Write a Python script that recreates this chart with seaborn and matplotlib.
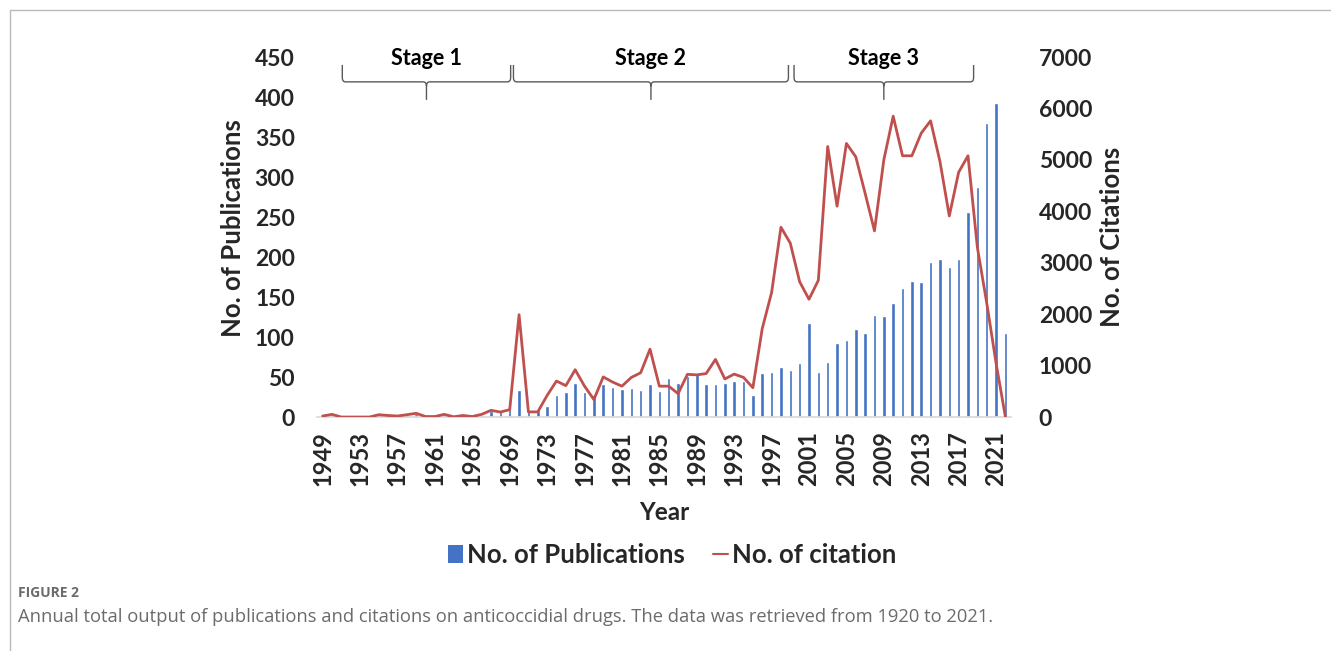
import numpy as np
import pandas as pd
import seaborn as sns
import matplotlib.pyplot as plt
from matplotlib.path import Path
from matplotlib.patches import PathPatch, Patch
from matplotlib.lines import Line2D
from matplotlib.transforms import blended_transform_factory

# --- data ---
years = list(range(1949, 2023))
publications = [
    3, 2, 0, 0, 0, 0, 2, 2, 1, 2,            # 1949-1958
    4, 0, 0, 2, 0, 4, 1, 2, 7, 7,            # 1959-1968
    10, 34, 7, 9, 14, 27, 31, 42, 31, 27,    # 1969-1978
    41, 37, 35, 36, 34, 41, 33, 49, 42, 51,  # 1979-1988
    54, 41, 41, 42, 45, 45, 27, 55, 56, 63,  # 1989-1998
    59, 68, 118, 56, 69, 92, 96, 110, 105, 128,  # 1999-2008
    126, 142, 161, 170, 169, 194, 197, 188, 197, 256,  # 2009-2018
    287, 368, 393, 105,                      # 2019-2022
]
citations = [
    20, 52, 0, 0, 0, 0, 45, 30, 20, 45,
    72, 10, 10, 52, 5, 30, 10, 52, 130, 97,
    143, 1990, 100, 100, 420, 700, 610, 920, 600, 340,
    780, 680, 600, 770, 860, 1320, 600, 600, 455, 830,
    820, 845, 1120, 740, 835, 770, 570, 1720, 2420, 3690,
    3380, 2630, 2290, 2660, 5260, 4100, 5320, 5060, 4350, 3620,
    5000, 5850, 5080, 5080, 5520, 5760, 4970, 3910, 4760, 5080,
    3300, 2220, 1050, 0,
]
stage_names = ["Stage 1", "Stage 2", "Stage 3"]
stage_starts = [1951.1, 1969.4, 1999.4]
stage_ends = [1969.1, 1998.8, 2018.6]

df = pd.DataFrame({"Year": years, "Publications": publications, "Citations": citations})

blue = "#4472C4"
red = "#C0504D"

sns.set_theme(style="white")
plt.rcParams["font.family"] = ["Lato", "DejaVu Sans"]

fig = plt.figure(figsize=(13.31, 6.51), dpi=100)
ax = fig.add_axes([0.2382, 0.3594, 0.5214, 0.553])

sns.barplot(data=df, x="Year", y="Publications", color=blue, saturation=1,
            width=0.38, ax=ax)
ax.set_ylim(0, 450)
ax.set_xlim(-0.6, len(years) - 0.4)

ax2 = ax.twinx()
sns.lineplot(x=np.arange(len(years)), y=df["Citations"], color=red, lw=2,
             ax=ax2)
ax2.set_ylim(0, 7000)

# ticks (every 4th year on x)
pos = np.arange(0, len(years), 4)
ax.set_xticks(pos, [str(years[i]) for i in pos], rotation=90, fontsize=17,
              fontweight="bold")
ax.set_yticks(range(0, 451, 50), [str(v) for v in range(0, 451, 50)],
              fontsize=16.5, fontweight="bold")
ax2.set_yticks(range(0, 7001, 1000), [str(v) for v in range(0, 7001, 1000)],
               fontsize=16.5, fontweight="bold")
for a in (ax, ax2):
    for s in a.spines.values():
        s.set_visible(False)
ax.spines["bottom"].set_visible(True)
ax.spines["bottom"].set_color("#D9D9D9")
ax.tick_params(axis="x", length=0, pad=10)
ax.tick_params(axis="y", length=0, pad=16)
ax2.tick_params(axis="y", length=0, pad=20)

ax.set_xlabel("Year", fontsize=17.5, fontweight="bold")
ax.set_ylabel("No. of Publications", fontsize=18.5, fontweight="bold")
ax2.set_ylabel("No. of Citations", fontsize=18.5, fontweight="bold")
ax.xaxis.set_label_coords(0.501, -0.232)
ax.yaxis.set_label_coords(-0.104, 0.525)
ax2.yaxis.set_label_coords(1.128, 0.5)

# stage braces
tr = blended_transform_factory(ax.transData, ax.transAxes)
ytop, ymid, ytip = 0.978, 0.931, 0.881
rx, ry = 0.35, 0.012
for name, s, e in zip(stage_names, stage_starts, stage_ends):
    x0, x1 = s - years[0], e - years[0]
    xc = (x0 + x1) / 2
    verts = [(x0, ytop), (x0, ymid + ry), (x0, ymid), (x0 + rx, ymid),
             (xc - rx, ymid), (xc, ymid), (xc, ymid - ry), (xc, ytip),
             (xc, ymid - ry), (xc, ymid), (xc + rx, ymid),
             (x1 - rx, ymid), (x1, ymid), (x1, ymid + ry), (x1, ytop)]
    codes = [Path.MOVETO, Path.LINETO, Path.CURVE3, Path.CURVE3,
             Path.LINETO, Path.CURVE3, Path.CURVE3, Path.LINETO,
             Path.MOVETO, Path.CURVE3, Path.CURVE3,
             Path.LINETO, Path.CURVE3, Path.CURVE3, Path.LINETO]
    ax.add_patch(PathPatch(Path(verts, codes), transform=tr, fill=False,
                           edgecolor="#595959", lw=1, clip_on=False))
    ax.text(xc, 0.997, name, transform=tr, ha="center", va="center",
            fontsize=15.5, fontweight="bold", color="black")

handles = [Patch(facecolor=blue, edgecolor="none"),
           Line2D([0], [0], color=red, lw=1.5)]
fig.legend(handles, ["No. of Publications", "No. of citation"], loc="center",
           bbox_to_anchor=(0.505, 0.1475), ncol=2, frameon=False,
           prop={"size": 18.5, "weight": "bold"}, handlelength=0.6,
           handleheight=0.7, handletextpad=0.15, columnspacing=1.1)

# figure frame and caption
fig.add_artist(Line2D([10 / 1331, 10 / 1331], [0, 1 - 10 / 651],
                      transform=fig.transFigure, color="#BBBBBB", lw=1))
fig.add_artist(Line2D([10 / 1331, 1], [1 - 10 / 651, 1 - 10 / 651],
                      transform=fig.transFigure, color="#BBBBBB", lw=1))
fig.text(18 / 1331, 1 - 593 / 651, "FIGURE 2", fontsize=10, fontweight="bold",
         color="#6b6b6b", va="center", family=["Open Sans", "DejaVu Sans"])
fig.text(18 / 1331, 1 - 617 / 651,
         "Annual total output of publications and citations on anticoccidial drugs. "
         "The data was retrieved from 1920 to 2021.",
         fontsize=13.2, color="#6b6b6b", va="center",
         family=["Open Sans", "DejaVu Sans"])

fig.savefig("out.png", dpi=100)
